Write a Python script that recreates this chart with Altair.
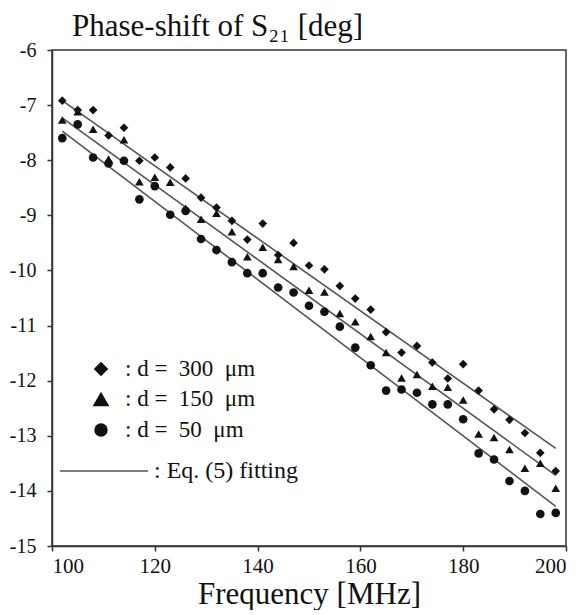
import altair as alt
import pandas as pd

# ---- data ----
freq = [102, 105, 108, 111, 114, 117, 120, 123, 126, 129, 132, 135, 138, 141, 144, 147,
        150, 153, 156, 159, 162, 165, 168, 171, 174, 177, 180, 183, 186, 189, 192, 195, 198]

d300 = [-6.92, -7.09, -7.09, -7.55, -7.41, -8.01, -7.95, -8.13, -8.33, -8.68, -8.86, -9.10,
        -9.44, -9.15, -9.72, -9.50, -9.91, -9.98, -10.28, -10.51, -10.71, -11.12, -11.49,
        -11.37, -11.67, -11.96, -11.70, -12.18, -12.52, -12.71, -12.95, -13.31, -13.64]

d150 = [-7.27, -7.12, -7.44, -7.98, -7.63, -8.39, -8.31, -8.40, -8.87, -9.07, -8.96, -9.30,
        -9.75, -9.58, -9.80, -9.93, -10.36, -10.39, -10.78, -10.93, -11.20, -11.49, -11.95,
        -11.89, -12.10, -12.12, -12.35, -12.97, -13.03, -13.25, -13.59, -13.50, -13.95]

d50 = [-7.60, -7.35, -7.95, -8.06, -8.01, -8.71, -8.47, -8.99, -8.92, -9.43, -9.63, -9.85,
       -10.05, -10.05, -10.31, -10.40, -10.64, -10.75, -11.02, -11.40, -11.72, -12.18, -12.16,
       -12.22, -12.43, -12.43, -12.70, -13.32, -13.43, -13.82, -14.00, -14.42, -14.40]

fit_freq = [102, 198]
fit300 = [-6.92, -13.23]
fit150 = [-7.23, -13.72]
fit50 = [-7.47, -14.28]

series_names = ["d = 300 μm", "d = 150 μm", "d = 50 μm"]
series_shapes = ["diamond", "triangle-up", "circle"]
legend_text = [": d =\u2002300\u2002μm", ": d =\u2002150\u2002μm", ": d =\u200250\u2002μm"]
fit_label = ": Eq. (5) fitting"

x_ticks = [100, 120, 140, 160, 180, 200]
y_ticks = [-6, -7, -8, -9, -10, -11, -12, -13, -14, -15]

FONT = "Liberation Serif"
INK = "#111111"
AX = "#333333"

# ---- tables ----
rows = []
for name, vals in zip(series_names, [d300, d150, d50]):
    for f, v in zip(freq, vals):
        rows.append({"f": f, "phase": v, "series": name})
pts = pd.DataFrame(rows)

frows = []
for name, vals in zip(series_names, [fit300, fit150, fit50]):
    for f, v in zip(fit_freq, vals):
        frows.append({"f": f, "phase": v, "series": name})
fits = pd.DataFrame(frows)

xs = alt.Scale(domain=[100, 200], nice=False, zero=False)
ys = alt.Scale(domain=[-15, -6], nice=False, zero=False)
shape_scale = alt.Scale(domain=series_names, range=series_shapes)

x_axis = alt.Axis(values=x_ticks, title="Frequency [MHz]", grid=False,
                  labelFont=FONT, titleFont=FONT,
                  labelFontSize=21, titleFontSize=31, labelPadding=4, titlePadding=3,
                  tickSize=5)
y_axis = alt.Axis(values=y_ticks, title=None, grid=False, labelFontSize=20,
                  labelFont=FONT, labelPadding=11, tickSize=5,
                  labelExpr="datum.value < 0 ? '-' + format(-datum.value, 'd') : format(datum.value, 'd')")

lines = alt.Chart(fits).mark_line(color="#555555", strokeWidth=1.6).encode(
    x=alt.X("f:Q", scale=xs, axis=x_axis),
    y=alt.Y("phase:Q", scale=ys, axis=y_axis),
    detail="series:N",
)

points = alt.Chart(pts).mark_point(filled=True, color=INK, opacity=1, size=75).encode(
    x=alt.X("f:Q", scale=xs),
    y=alt.Y("phase:Q", scale=ys),
    shape=alt.Shape("series:N", scale=shape_scale, legend=None),
)

# ---- hand-drawn legend (pixel positions inside the plot) ----
legend_layers = []
row_y = [319, 349, 380]
marker_size = [210, 280, 180]
one = pd.DataFrame({"k": [0]})
for i in range(3):
    legend_layers.append(
        alt.Chart(one).mark_point(filled=True, color=INK, opacity=1,
                                  shape=series_shapes[i], size=marker_size[i]).encode(
            x=alt.value(49), y=alt.value(row_y[i]))
    )
    legend_layers.append(
        alt.Chart(one).mark_text(text=legend_text[i], font=FONT, fontSize=23, color=INK,
                                 align="left", baseline="middle").encode(
            x=alt.value(73), y=alt.value(row_y[i]))
    )
legend_layers.append(
    alt.Chart(one).mark_rule(color="#555555", strokeWidth=1.6).encode(
        x=alt.value(8), x2=alt.value(96), y=alt.value(421))
)
legend_layers.append(
    alt.Chart(one).mark_text(text=fit_label, font=FONT, fontSize=24, color=INK,
                             align="left", baseline="middle").encode(
        x=alt.value(102), y=alt.value(421))
)

chart = alt.layer(lines, points, *legend_layers).properties(
    width=514,
    height=496,
    autosize=alt.AutoSizeParams(type="none"),
    padding={"left": 44, "top": 42, "right": 11, "bottom": 64},
    title=alt.TitleParams("Phase-shift of S₂₁ [deg]", anchor="start", frame="group",
                          dx=20, fontSize=31, font=FONT, fontWeight="normal",
                          color=INK, offset=0, dy=3),
).configure(
    font=FONT
).configure_view(
    stroke=AX, strokeWidth=1.5
).configure_axis(
    labelFont=FONT, titleFont=FONT, labelColor=INK, titleColor=INK,
    titleFontWeight="normal", domainColor=AX, domainWidth=1.5,
    tickColor=AX, tickWidth=1.5,
).configure_title(
    font=FONT
)

chart.save("out.html", embed_options={"renderer": "svg", "actions": False})
